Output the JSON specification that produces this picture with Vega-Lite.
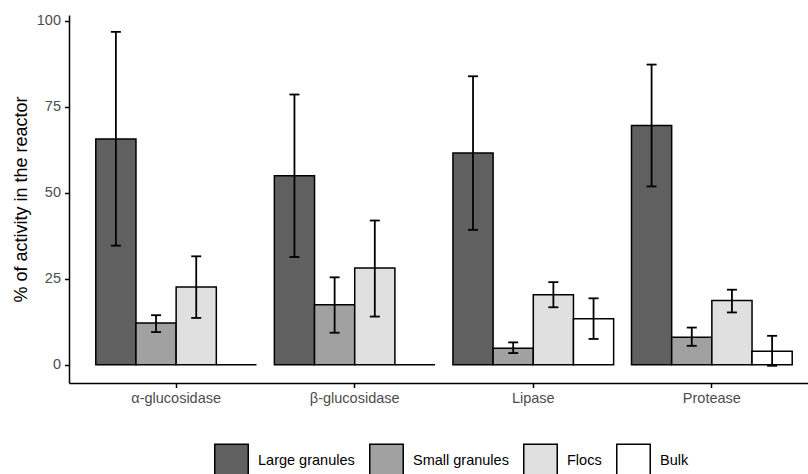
{
  "$schema": "https://vega.github.io/schema/vega-lite/v6.json",
  "width": 739,
  "height": 368,
  "autosize": {"type": "none"},
  "padding": {"left": 69, "top": 15, "right": 0, "bottom": 91},
  "background": "white",
  "config": {
    "font": "Liberation Sans",
    "view": {"stroke": null},
    "axis": {"grid": false}
  },
  "data": {
    "values": [
      {"group": "α-glucosidase", "fraction": "Large granules", "value": 65.6, "lo": 34.6, "hi": 96.7},
      {"group": "α-glucosidase", "fraction": "Small granules", "value": 12.1, "lo": 9.5, "hi": 14.4},
      {"group": "α-glucosidase", "fraction": "Flocs", "value": 22.6, "lo": 13.6, "hi": 31.5},
      {"group": "α-glucosidase", "fraction": "Bulk", "value": 0, "lo": null, "hi": null},
      {"group": "β-glucosidase", "fraction": "Large granules", "value": 54.9, "lo": 31.3, "hi": 78.5},
      {"group": "β-glucosidase", "fraction": "Small granules", "value": 17.4, "lo": 9.3, "hi": 25.4},
      {"group": "β-glucosidase", "fraction": "Flocs", "value": 28.1, "lo": 14.0, "hi": 41.9},
      {"group": "β-glucosidase", "fraction": "Bulk", "value": 0, "lo": null, "hi": null},
      {"group": "Lipase", "fraction": "Large granules", "value": 61.5, "lo": 39.2, "hi": 83.8},
      {"group": "Lipase", "fraction": "Small granules", "value": 4.8, "lo": 3.4, "hi": 6.5},
      {"group": "Lipase", "fraction": "Flocs", "value": 20.3, "lo": 16.7, "hi": 24.0},
      {"group": "Lipase", "fraction": "Bulk", "value": 13.4, "lo": 7.5, "hi": 19.3},
      {"group": "Protease", "fraction": "Large granules", "value": 69.5, "lo": 51.8, "hi": 87.2},
      {"group": "Protease", "fraction": "Small granules", "value": 8.0, "lo": 5.5, "hi": 10.8},
      {"group": "Protease", "fraction": "Flocs", "value": 18.7, "lo": 15.2, "hi": 21.8},
      {"group": "Protease", "fraction": "Bulk", "value": 3.9, "lo": -0.3, "hi": 8.4}
    ]
  },
  "encoding": {
    "x": {
      "field": "group",
      "type": "nominal",
      "sort": ["α-glucosidase", "β-glucosidase", "Lipase", "Protease"],
      "scale": {"paddingInner": 0.1, "paddingOuter": 0.15, "range": [0, 750]},
      "axis": {
        "title": null,
        "labelAngle": 0,
        "domainColor": "black",
        "domainWidth": 1.5,
        "tickColor": "black",
        "tickWidth": 1.5,
        "tickSize": 4.5,
        "labelColor": "#4d4d4d",
        "labelFontSize": 14.5,
        "labelPadding": 3.5
      }
    },
    "xOffset": {
      "field": "fraction",
      "type": "nominal",
      "sort": ["Large granules", "Small granules", "Flocs", "Bulk"],
      "scale": {"paddingInner": 0, "paddingOuter": 0}
    }
  },
  "layer": [
    {
      "mark": {"type": "bar", "stroke": "black", "strokeWidth": 1.5},
      "encoding": {
        "y": {
          "field": "value",
          "type": "quantitative",
          "scale": {"domain": [-5.3, 101.6], "nice": false, "zero": false},
          "axis": {
            "title": "% of activity in the reactor",
            "values": [0, 25, 50, 75, 100],
            "titleFontSize": 18,
            "titleFontWeight": "normal",
            "titleColor": "black",
            "titlePadding": 6,
            "domainColor": "black",
            "domainWidth": 1.5,
            "tickColor": "black",
            "tickWidth": 1.5,
            "tickSize": 4.5,
            "labelColor": "#4d4d4d",
            "labelFontSize": 14.5,
            "labelPadding": 4
          }
        },
        "y2": {"datum": 0},
        "fill": {
          "field": "fraction",
          "type": "nominal",
          "sort": ["Large granules", "Small granules", "Flocs", "Bulk"],
          "scale": {
            "domain": ["Large granules", "Small granules", "Flocs", "Bulk"],
            "range": ["#606060", "#a1a1a1", "#e0e0e0", "#ffffff"]
          },
          "legend": {
            "title": null,
            "orient": "none",
            "direction": "horizontal",
            "legendX": 145,
            "legendY": 428,
            "padding": 0,
            "symbolType": "square",
            "symbolSize": 1120,
            "symbolStrokeColor": "black",
            "symbolStrokeWidth": 1.5,
            "symbolOpacity": 1,
            "labelFontSize": 14.5,
            "labelColor": "black",
            "labelOffset": 9,
            "columnPadding": 11
          }
        }
      }
    },
    {
      "mark": {"type": "rule", "color": "black", "strokeWidth": 1.8},
      "encoding": {
        "y": {"field": "lo", "type": "quantitative"},
        "y2": {"field": "hi"}
      }
    },
    {
      "mark": {"type": "tick", "color": "black", "thickness": 1.8, "size": 10, "opacity": 1},
      "encoding": {
        "y": {"field": "lo", "type": "quantitative"}
      }
    },
    {
      "mark": {"type": "tick", "color": "black", "thickness": 1.8, "size": 10, "opacity": 1},
      "encoding": {
        "y": {"field": "hi", "type": "quantitative"}
      }
    }
  ]
}
